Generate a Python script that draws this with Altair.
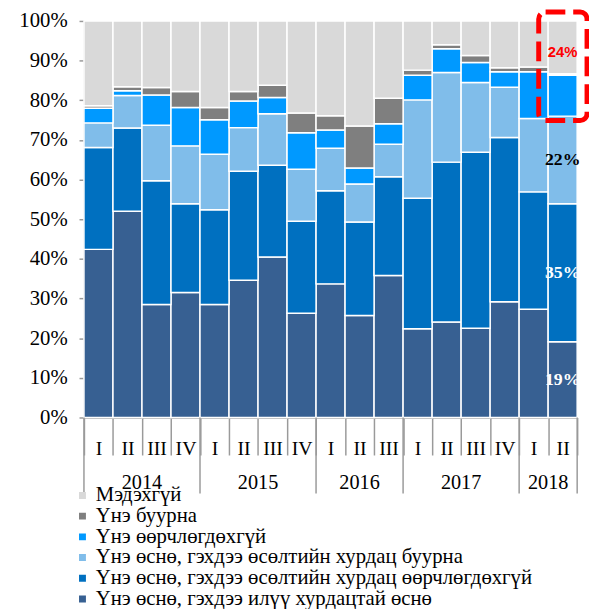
import altair as alt
import pandas as pd

years = ["2014", "2015", "2016", "2017", "2018"]
quarters = [["I", "II", "III", "IV"], ["I", "II", "III", "IV"], ["I", "II", "III"],
            ["I", "II", "III", "IV"], ["I", "II"]]

series = [
    "Мэдэхгүй",
    "Үнэ буурна",
    "Үнэ өөрчлөгдөхгүй",
    "Үнэ өснө, гэхдээ өсөлтийн хурдац буурна",
    "Үнэ өснө, гэхдээ өсөлтийн хурдац өөрчлөгдөхгүй",
    "Үнэ өснө, гэхдээ илүү хурдацтай өснө",
]
colors = ["#D9D9D9", "#7F7F7F", "#0099FF", "#80BDEA", "#0070C0", "#376092"]

faster = [42.4, 52.0, 28.5, 31.5, 28.5, 34.6, 40.5, 26.3, 33.7, 25.7, 35.8, 22.4, 24.1, 22.5, 29.2, 27.3, 19.1]
same_rate = [25.7, 21.0, 31.2, 22.4, 23.9, 27.5, 23.1, 23.2, 23.5, 23.6, 24.9, 32.9, 40.3, 44.4, 41.4, 29.6, 34.8]
slower = [6.2, 8.2, 14.0, 14.6, 14.0, 11.0, 13.0, 13.1, 10.7, 9.6, 8.2, 24.8, 22.6, 17.6, 12.7, 18.5, 22.1]
no_change = [3.7, 1.2, 7.6, 9.7, 8.7, 6.7, 4.1, 9.2, 4.6, 4.0, 5.2, 6.2, 6.0, 5.0, 3.9, 11.8, 10.3]
decrease = [0.6, 1.0, 1.9, 4.0, 3.1, 2.4, 3.1, 5.0, 3.6, 10.6, 6.4, 1.3, 1.0, 1.8, 1.0, 1.2, 0.4]
dont_know = [21.4, 16.6, 16.8, 17.8, 21.8, 17.8, 16.2, 23.2, 23.9, 26.5, 19.5, 12.4, 6.0, 8.7, 11.8, 11.6, 13.3]

# stacking order: bottom -> top
stack_series = [faster, same_rate, slower, no_change, decrease, dont_know]
stack_names = series[::-1]

keys = []
for y, qs in zip(years, quarters):
    for q in qs:
        keys.append(f"{y}-{q}")

rows = []
for ord_i, (name, vals) in enumerate(zip(stack_names, stack_series)):
    for k, v in zip(keys, vals):
        rows.append({"key": k, "series": name, "value": v, "ord": ord_i})
df = pd.DataFrame(rows)

FONT = "Liberation Serif"
GRAY = "#9A9A9A"

bars = alt.Chart(df).mark_bar(stroke="white", strokeWidth=1.5).encode(
    x=alt.X("key:N", sort=keys,
            scale=alt.Scale(paddingInner=0, paddingOuter=0),
            axis=alt.Axis(title=None, labelExpr="split(datum.label, '-')[1]", labelAngle=0,
                          tickBand="extent", tickSize=38, labelPadding=-16,
                          labelFont=FONT, labelFontSize=20, labelColor="black",
                          domainColor=GRAY, tickColor=GRAY, domainWidth=1.5, tickWidth=1.5)),
    y=alt.Y("value:Q", stack="zero",
            scale=alt.Scale(domain=[0, 100], nice=False),
            axis=alt.Axis(title=None, values=list(range(0, 101, 10)),
                          labelExpr="datum.value + '%'", tickSize=5, grid=False,
                          labelFont=FONT, labelFontSize=21, labelColor="black", labelPadding=12,
                          domainColor=GRAY, tickColor=GRAY, domainWidth=1.5, tickWidth=1.5)),
    color=alt.Color("series:N", scale=alt.Scale(domain=series, range=colors),
                    legend=alt.Legend(title=None, orient="none", legendX=-12, legendY=471,
                                      direction="vertical", symbolType="square", symbolSize=49,
                                      symbolStrokeWidth=0, labelFont=FONT, labelFontSize=21,
                                      labelColor="black", labelLimit=700, labelOffset=3,
                                      clipHeight=20, rowPadding=0, padding=0)),
    order=alt.Order("ord:Q", sort="ascending"),
)

# annotations on the last bar
last = keys[-1]
b0 = faster[-1]
b1 = b0 + same_rate[-1]
b2 = b1 + slower[-1]
top_share = no_change[-1] + decrease[-1] + dont_know[-1]
ann = pd.DataFrame({
    "key": [last, last, last],
    "pos": [b0 / 2, (b0 + b1) / 2, (b1 + b2) / 2],
    "label": [f"{round(faster[-1])}%", f"{round(same_rate[-1])}%", f"{round(slower[-1])}%"],
    "col": ["white", "white", "black"],
})
ann_text = alt.Chart(ann).mark_text(font=FONT, fontSize=18, fontWeight="bold", baseline="middle", dx=0).encode(
    x=alt.X("key:N", sort=keys),
    y=alt.Y("pos:Q"),
    text="label:N",
    color=alt.Color("col:N", scale=None),
)
top_df = pd.DataFrame({"key": [last], "label": [f"{round(top_share)}%"]})
top_text = alt.Chart(top_df).mark_text(font="Liberation Sans", fontSize=15, fontWeight="bold",
                                       color="#FF0000", baseline="middle", dx=0, dy=32).encode(
    x=alt.X("key:N", sort=keys),
    y=alt.datum(100),
    text="label:N",
)
box = alt.Chart(top_df).mark_rect(fillOpacity=0, stroke="#FF0000", strokeWidth=5,
                                  strokeDash=[20, 8], cornerRadius=7).encode(
    x=alt.value(461), x2=alt.value(510), y=alt.value(-9), y2=alt.value(101),
)

main = alt.layer(bars, ann_text, top_text, box)

# year separators and year labels
starts = []
ends = []
pos = 0
for qs in quarters:
    starts.append(pos)
    pos += len(qs)
    ends.append(pos)
bounds = pd.DataFrame({"b": starts + [ends[-1]]})
ydf = pd.DataFrame({"year": years, "mid": [(s + e) / 2 for s, e in zip(starts, ends)]})
qscale = alt.Scale(domain=[0, len(keys)], nice=False, zero=True)

year_rules = alt.Chart(bounds).mark_rule(color=GRAY, strokeWidth=1.5).encode(
    x=alt.X("b:Q", scale=qscale, axis=None),
    y=alt.value(402), y2=alt.value(479),
)
year_text = alt.Chart(ydf).mark_text(font=FONT, fontSize=20.5, baseline="middle", color="black").encode(
    x=alt.X("mid:Q", scale=qscale, axis=None),
    y=alt.value(468),
    text="year:N",
)
years_layer = alt.layer(year_rules, year_text)

chart = alt.layer(main, years_layer).resolve_scale(
    x="independent"
).properties(
    width=500, height=402,
    padding={"left": 77, "top": 9, "right": 12, "bottom": 190},
    autosize="none",
).configure_view(stroke=None)

chart.save("out.html", embed_options={"renderer": "svg", "actions": False})
